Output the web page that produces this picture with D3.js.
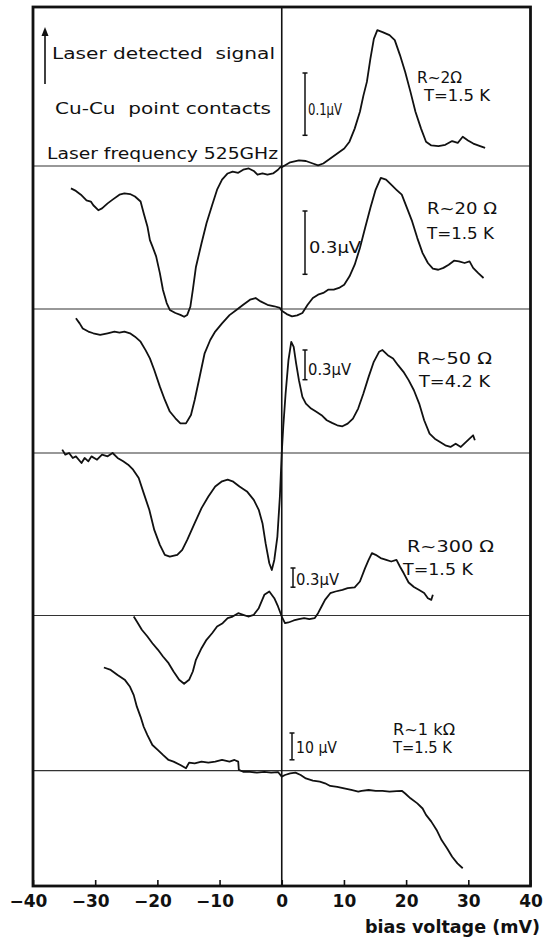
<!DOCTYPE html>
<html>
<head>
<meta charset="utf-8">
<script src="https://cdn.jsdelivr.net/npm/d3@7"></script>
<style>
  body { margin: 0; background: #fff; }
  #main svg { display: block; }
  text { fill: #111; }
</style>
</head>
<body>
<div id="main"></div>
<script>
// bias voltage ticks (mV)
const biasTicks = [-40, -30, -20, -10, 0, 10, 20, 30, 40];

// R~2 ohm, T=1.5 K  (signal in uV)
const bias2ohm = [-33.9, -33.1, -32.3, -31.4, -30.7, -30.3, -29.5, -28.9, -28.0, -27.2, -26.1, -25.3, -24.4, -23.6, -22.7, -22.2, -21.6, -21.2, -20.8, -20.2,
  -19.6, -19.1, -18.5, -18.0, -17.1, -16.3, -15.7, -15.2, -14.7, -14.3, -13.8, -12.9, -12.1, -11.2, -10.4, -9.6, -8.7, -7.9, -7.0, -6.2,
  -5.3, -4.5, -3.9, -3.1, -2.3, -1.4, -0.6, -0.15,
  0, 1.36, 2.76, 3.88, 5.0, 5.84, 6.68, 7.81, 8.93, 10.05, 10.89, 11.73, 12.57, 13.13, 13.69, 14.25, 14.81, 15.37, 16.21, 17.33,
  18.17, 19.01, 19.85, 20.7, 21.5, 22.4, 23.2, 24.05, 25.2, 26.3, 27.4, 28.3, 29.1, 29.95, 30.8, 31.9, 32.7];
const signal2ohm = [-0.036, -0.040, -0.046, -0.055, -0.057, -0.063, -0.071, -0.068, -0.060, -0.054, -0.046, -0.044, -0.045, -0.049, -0.057, -0.076, -0.097, -0.119, -0.129, -0.145,
  -0.172, -0.199, -0.220, -0.231, -0.236, -0.239, -0.242, -0.239, -0.226, -0.199, -0.162, -0.124, -0.092, -0.063, -0.038, -0.022, -0.012, -0.009, -0.011, -0.006,
  -0.004, -0.008, -0.014, -0.012, -0.014, -0.012, -0.006, -0.001,
  -0.002, 0.006, 0.009, 0.008, 0.004, 0.001, 0.004, 0.012, 0.020, 0.028, 0.039, 0.060, 0.087, 0.113, 0.135, 0.172, 0.204, 0.218, 0.215, 0.210,
  0.202, 0.178, 0.151, 0.119, 0.087, 0.060, 0.039, 0.033, 0.032, 0.034, 0.040, 0.037, 0.047, 0.041, 0.036, 0.032, 0.029];

// R~20 ohm, T=1.5 K
const bias20ohm = [-33.1, -32.5, -32.0, -31.1, -30.3, -29.2, -28.0, -26.9, -26.1, -25.3, -24.4, -23.6, -22.7, -21.9, -21.2, -20.5, -19.6, -18.8, -18.0, -17.1,
  -16.3, -15.4, -14.6, -14.0, -13.2, -12.4, -11.5, -10.7, -9.6, -8.4, -7.3, -6.2, -5.1, -4.2, -3.4, -2.3, -1.2, -0.3,
  0, 0.8, 1.65, 2.48, 3.32, 4.16, 5.0, 5.84, 6.68, 7.52, 8.36, 9.2, 10.04, 10.9, 11.73, 12.57, 13.4, 14.25, 15.09, 15.93,
  16.77, 17.6, 18.45, 19.3, 20.13, 20.97, 21.8, 22.65, 23.5, 24.3, 25.17, 26.0, 26.85, 27.7, 28.5, 29.4, 30.2, 30.77, 31.6, 32.45];
const signal20ohm = [-0.044, -0.068, -0.092, -0.107, -0.115, -0.123, -0.115, -0.107, -0.112, -0.107, -0.115, -0.131, -0.155, -0.195, -0.234, -0.289, -0.368, -0.431, -0.486, -0.518,
  -0.542, -0.542, -0.502, -0.431, -0.321, -0.210, -0.147, -0.107, -0.068, -0.029, -0.005, 0.020, 0.044, 0.052, 0.036, 0.020, 0.013, 0.005,
  -0.008, -0.024, -0.035, -0.030, -0.019, 0.020, 0.052, 0.068, 0.076, 0.092, 0.092, 0.100, 0.115, 0.155, 0.210, 0.289, 0.384, 0.479, 0.565, 0.621,
  0.613, 0.589, 0.565, 0.542, 0.479, 0.415, 0.336, 0.265, 0.218, 0.191, 0.186, 0.195, 0.210, 0.229, 0.226, 0.218, 0.226, 0.195, 0.170, 0.147];

// R~50 ohm, T=4.2 K
const bias50ohm = [-35.3, -34.8, -34.2, -33.6, -33.1, -32.2, -31.7, -31.1, -30.6, -29.7, -28.9, -28.0, -27.2, -26.4, -25.5, -24.7, -23.9, -23.0, -22.2, -21.3,
  -20.5, -19.6, -18.8, -18.0, -16.8, -16.0, -15.2, -14.0, -12.9, -11.8, -10.7, -9.6, -8.7, -7.9, -6.8, -5.6, -4.5, -3.7, -3.1, -2.6,
  -2.0, -1.6, -1.2, -0.7, -0.3,
  0, 0.24, 0.62, 1.08, 1.53, 1.92, 2.31, 2.76, 3.32, 3.88, 4.72, 5.56, 6.4, 7.24, 8.08, 8.92, 9.76, 10.6, 11.45, 12.29,
  13.13, 13.97, 14.8, 15.65, 16.2, 17.05, 17.9, 18.7, 19.57, 20.4, 21.25, 22.1, 22.9, 23.77, 24.6, 25.45, 26.3, 27.13, 27.97, 28.8,
  29.65, 30.2, 30.77, 31.05];
const signal50ohm = [0.034, -0.017, 0, -0.050, -0.034, -0.101, -0.050, -0.084, -0.034, -0.068, -0.017, -0.034, 0, -0.050, -0.084, -0.118, -0.169, -0.253, -0.405, -0.574,
  -0.777, -0.928, -1.029, -1.047, -1.029, -0.979, -0.878, -0.709, -0.557, -0.439, -0.338, -0.286, -0.270, -0.286, -0.338, -0.388, -0.473, -0.574, -0.709, -0.911,
  -1.114, -1.182, -1.080, -0.844, -0.439,
  0, 0.263, 0.601, 0.938, 1.123, 1.073, 0.905, 0.736, 0.567, 0.499, 0.449, 0.416, 0.382, 0.331, 0.304, 0.280, 0.270, 0.297, 0.348, 0.449,
  0.601, 0.769, 0.921, 1.022, 1.040, 0.988, 0.955, 0.887, 0.820, 0.736, 0.634, 0.499, 0.331, 0.196, 0.145, 0.112, 0.078, 0.061, 0.094, 0.061,
  0.112, 0.145, 0.179, 0.128];

// R~300 ohm, T=1.5 K
const bias300ohm = [-23.8, -23.3, -22.5, -21.6, -20.8, -19.9, -19.1, -18.2, -17.4, -16.5, -15.7, -14.9, -14.3, -13.8, -12.9, -12.1, -11.2, -10.4, -9.5, -8.7,
  -7.9, -7.0, -6.2, -5.4, -4.5, -3.7, -2.8, -2.0, -1.2, -0.6,
  0, 0.52, 1.08, 1.92, 2.76, 3.6, 4.44, 5.28, 5.84, 6.4, 6.96, 7.8, 8.64, 9.76, 10.6, 11.73, 12.57, 13.4, 13.97, 14.5,
  15.1, 15.9, 16.8, 17.6, 18.45, 19.0, 19.6, 20.4, 21.25, 22.1, 22.9, 23.5, 24.05, 24.3];
const signal300ohm = [-0.016, -0.094, -0.223, -0.328, -0.433, -0.536, -0.641, -0.745, -0.875, -1.005, -1.067, -1.005, -0.875, -0.692, -0.511, -0.380, -0.277, -0.172, -0.120, -0.042,
  -0.016, 0.036, 0.011, -0.016, 0.011, 0.114, 0.323, 0.375, 0.270, 0.141,
  -0.016, -0.120, -0.109, -0.078, -0.058, -0.042, -0.058, -0.042, 0.036, 0.141, 0.245, 0.348, 0.375, 0.402, 0.427, 0.438, 0.531, 0.741, 0.870, 0.975,
  0.948, 0.897, 0.870, 0.844, 0.870, 0.766, 0.663, 0.516, 0.445, 0.398, 0.352, 0.270, 0.245, 0.323];

// R~1 kohm, T=1.5 K
const bias1kohm = [-28.6, -27.5, -26.4, -25.2, -24.4, -23.8, -23.3, -22.7, -22.2, -21.6, -20.8, -19.9, -19.1, -18.2, -17.4, -16.3, -15.4, -14.9, -14.0, -12.9,
  -11.8, -10.7, -9.6, -8.4, -7.6, -7.0, -6.9, -6.2, -5.1, -4.0, -2.8, -1.7, -0.6,
  0, 0.52, 1.36, 2.2, 3.04, 3.88, 5.0, 6.12, 6.96, 7.8, 8.92, 10.04, 11.17, 12.3, 12.85, 13.97, 15.1, 16.2, 17.33, 18.45,
  19.3, 19.85, 20.7, 21.8, 22.65, 23.2, 24.05, 24.9, 25.7, 26.6, 27.4, 28.25, 29.1];
const signal1kohm = [38.5, 37.6, 35.7, 33.8, 31.3, 28.2, 23.9, 20.1, 16.4, 13.3, 9.6, 7.7, 5.9, 4.0, 3.4, 2.1, 0.9, 3.0, 2.7, 3.4,
  3.0, 3.4, 4.0, 3.4, 4.0, 3.4, 0.3, -0.4, -0.4, -0.7, -0.4, -0.7, -0.5,
  -2.2, -1.6, -1.0, -0.7, -1.6, -2.9, -3.7, -4.1, -4.7, -5.7, -6.0, -6.6, -7.2, -7.8, -7.5, -7.2, -7.5, -7.5, -7.8, -7.6,
  -7.5, -8.5, -10.3, -12.2, -14.1, -16.5, -19.0, -22.1, -25.9, -29.0, -32.1, -34.6, -36.4];

const barValues = [0.1, 0.3, 0.3, 0.3, 10];
const barLabels = ["0.1μV", "0.3μV", "0.3μV", "0.3μV", "10 μV"];
const resistanceLabels = ["R~2Ω", "R~20 Ω", "R~50 Ω", "R~300 Ω", "R~1 kΩ"];
const temperatureLabels = ["T=1.5 K", "T=1.5 K", "T=4.2 K", "T=1.5 K", "T=1.5 K"];
const headerLines = ["Laser detected  signal", "Cu-Cu  point contacts", "Laser frequency 525GHz"];

const traces = [
  { bias: bias2ohm, signal: signal2ohm },
  { bias: bias20ohm, signal: signal20ohm },
  { bias: bias50ohm, signal: signal50ohm },
  { bias: bias300ohm, signal: signal300ohm },
  { bias: bias1kohm, signal: signal1kohm }
].map((t, i) => ({
  points: t.bias.map((b, j) => [b, t.signal[j]]),
  barValue: barValues[i], barLabel: barLabels[i],
  rLabel: resistanceLabels[i], tLabel: temperatureLabels[i]
}));

// where each trace sits on the page (baseline y, calibration bar and label boxes)
const panelLayout = [
  { base: 166, barPx: 62.3, barX: 305, barTop: 73, bl: [308, 115, 34], r: [417, 83, 45], t: [424, 101, 66] },
  { base: 309, barPx: 63.3, barX: 305, barTop: 211, bl: [309, 253, 52], r: [427, 214, 70], t: [427, 239, 67] },
  { base: 453, barPx: 29.7, barX: 305, barTop: 350, bl: [308, 375, 43], r: [417, 364, 75], t: [419, 387, 71] },
  { base: 615.5, barPx: 19.2, barX: 293, barTop: 568, bl: [296, 585, 43], r: [407, 552, 87], t: [403, 575, 70] },
  { base: 770.7, barPx: 26.8, barX: 292, barTop: 733, bl: [296, 753, 41], r: [393, 735, 62], t: [393, 753, 59] }
];

const textFont = "'DejaVu Sans', sans-serif";

class BiasChart {
  constructor(config) {
    this.config = config;
    this.svg = null;
    this.xScale = null;
    this.createSvg();
  }

  createSvg() {
    this.svg = d3.select(this.config.div)
      .append("svg")
      .attr("width", this.config.width)
      .attr("height", this.config.height);
  }

  createScales() {
    this.xScale = d3.scaleLinear().domain([-40, 40]).range([this.config.left, this.config.right]);
  }

  drawFrame() {
    const c = this.config, x = this.xScale;
    const g = this.svg.append("g");

    g.selectAll("line.sep")
      .data(panelLayout.map(p => p.base))
      .join("line")
      .attr("class", "sep")
      .attr("x1", x(-40)).attr("x2", x(40))
      .attr("y1", d => d).attr("y2", d => d)
      .attr("stroke", "#333").attr("stroke-width", 1.2);

    g.append("line")
      .attr("x1", x(0)).attr("x2", x(0))
      .attr("y1", c.top).attr("y2", c.bottom)
      .attr("stroke", "#111").attr("stroke-width", 1.6);

    g.append("rect")
      .attr("x", x(-40)).attr("y", c.top)
      .attr("width", x(40) - x(-40)).attr("height", c.bottom - c.top)
      .attr("fill", "none").attr("stroke", "#111").attr("stroke-width", 2.8);
  }

  drawAxis() {
    const c = this.config;
    const axis = d3.axisBottom(this.xScale)
      .tickValues(biasTicks)
      .tickSize(-6)
      .tickPadding(9)
      .tickFormat(d => d < 0 ? "\u2212" + Math.abs(d) : d);

    const ga = this.svg.append("g")
      .attr("transform", `translate(0,${c.bottom})`)
      .call(axis);
    ga.select(".domain").remove();
    ga.selectAll(".tick line").attr("stroke", "#111").attr("stroke-width", 1.6);
    ga.selectAll(".tick text")
      .attr("dx", d => d < 0 ? -5 : 0)
      .attr("fill", "#111")
      .style("font-family", textFont)
      .style("font-weight", "bold")
      .style("font-size", "17px");

    this.svg.append("text")
      .attr("x", 540).attr("y", 933)
      .attr("text-anchor", "end")
      .attr("textLength", 175).attr("lengthAdjust", "spacingAndGlyphs")
      .style("font-family", textFont)
      .style("font-weight", "bold")
      .style("font-size", "17px")
      .text("bias voltage (mV)");
  }

  drawHeader() {
    const boxes = [[52, 59, 223], [55, 114, 216], [47, 159, 231]];
    this.svg.selectAll("text.head")
      .data(headerLines)
      .join("text")
      .attr("class", "head")
      .attr("x", (d, i) => boxes[i][0]).attr("y", (d, i) => boxes[i][1])
      .attr("textLength", (d, i) => boxes[i][2]).attr("lengthAdjust", "spacingAndGlyphs")
      .style("font-family", textFont)
      .style("font-size", "16px")
      .style("white-space", "pre")
      .text(d => d);

    // signal direction arrow
    this.svg.append("line")
      .attr("x1", 45).attr("x2", 45).attr("y1", 84).attr("y2", 30)
      .attr("stroke", "#111").attr("stroke-width", 1.6);
    this.svg.append("path")
      .attr("d", "M41.5,36 L45,27 L48.5,36 Z")
      .attr("fill", "#111");
  }

  drawTraces() {
    const x = this.xScale;
    traces.forEach((t, i) => {
      const p = panelLayout[i];
      const y = d3.scaleLinear().domain([0, t.barValue]).range([p.base, p.base - p.barPx]);
      const line = d3.line().x(d => x(d[0])).y(d => y(d[1]));

      this.svg.append("path")
        .datum(t.points)
        .attr("fill", "none")
        .attr("stroke", "#111")
        .attr("stroke-width", 1.8)
        .attr("stroke-linejoin", "round")
        .attr("d", line);

      // calibration bar
      const len = y(0) - y(t.barValue);
      const gb = this.svg.append("g").attr("stroke", "#111").attr("stroke-width", 1.5);
      gb.append("line").attr("x1", p.barX).attr("x2", p.barX).attr("y1", p.barTop).attr("y2", p.barTop + len);
      gb.append("line").attr("x1", p.barX - 2.5).attr("x2", p.barX + 2.5).attr("y1", p.barTop).attr("y2", p.barTop);
      gb.append("line").attr("x1", p.barX - 2.5).attr("x2", p.barX + 2.5).attr("y1", p.barTop + len).attr("y2", p.barTop + len);

      const labels = [
        [t.barLabel, p.bl[0], p.bl[1], p.bl[2]],
        [t.rLabel, p.r[0], p.r[1], p.r[2]],
        [t.tLabel, p.t[0], p.t[1], p.t[2]]
      ];
      this.svg.append("g").selectAll("text")
        .data(labels)
        .join("text")
        .attr("x", d => d[1]).attr("y", d => d[2])
        .attr("textLength", d => d[3]).attr("lengthAdjust", "spacingAndGlyphs")
        .style("font-family", textFont)
        .style("font-size", i === 0 ? "15px" : "16px")
        .style("white-space", "pre")
        .text(d => d[0]);
    });
  }

  render() {
    this.createScales();
    this.drawFrame();
    this.drawTraces();
    this.drawHeader();
    this.drawAxis();
  }
}

const app = new BiasChart({ div: "#main", width: 545, height: 937, left: 33, right: 530.5, top: 7, bottom: 886 });
app.render();
</script>
</body>
</html>
